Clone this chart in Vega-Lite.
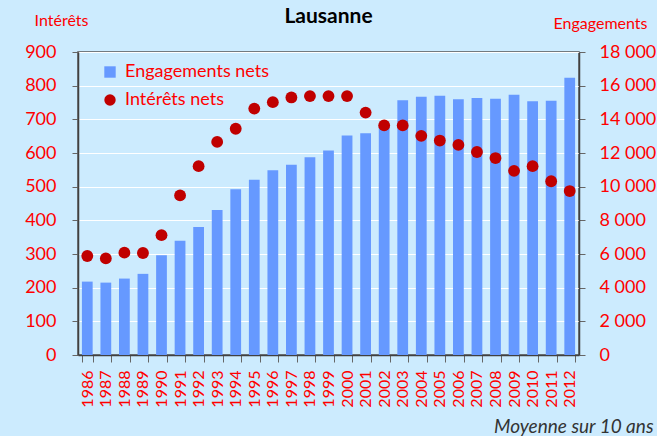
{
  "$schema": "https://vega.github.io/schema/vega-lite/v6.json",
  "autosize": {"type": "none"},
  "width": 501,
  "height": 303,
  "padding": {"left": 78, "top": 52, "right": 78, "bottom": 81},
  "background": "#CCEBFE",
  "config": {"font": "Lato", "view": {"stroke": "#555555", "strokeWidth": 1.5}},
  "title": {"text": "Lausanne", "fontSize": 21, "fontWeight": "bold", "color": "#000000", "anchor": "middle", "offset": -15},
  "data": {"values": [
    {"year": "1986", "interets": 294, "engagements": 4360},
    {"year": "1987", "interets": 287, "engagements": 4300},
    {"year": "1988", "interets": 304, "engagements": 4540},
    {"year": "1989", "interets": 303, "engagements": 4820},
    {"year": "1990", "interets": 356, "engagements": 5930},
    {"year": "1991", "interets": 474, "engagements": 6780},
    {"year": "1992", "interets": 561, "engagements": 7610},
    {"year": "1993", "interets": 633, "engagements": 8620},
    {"year": "1994", "interets": 672, "engagements": 9850},
    {"year": "1995", "interets": 732, "engagements": 10410},
    {"year": "1996", "interets": 751, "engagements": 10980},
    {"year": "1997", "interets": 765, "engagements": 11300},
    {"year": "1998", "interets": 769, "engagements": 11750},
    {"year": "1999", "interets": 769, "engagements": 12150},
    {"year": "2000", "interets": 769, "engagements": 13040},
    {"year": "2001", "interets": 720, "engagements": 13180},
    {"year": "2002", "interets": 682, "engagements": 13540},
    {"year": "2003", "interets": 682, "engagements": 15140},
    {"year": "2004", "interets": 651, "engagements": 15340},
    {"year": "2005", "interets": 637, "engagements": 15400},
    {"year": "2006", "interets": 624, "engagements": 15200},
    {"year": "2007", "interets": 603, "engagements": 15260},
    {"year": "2008", "interets": 585, "engagements": 15220},
    {"year": "2009", "interets": 547, "engagements": 15460},
    {"year": "2010", "interets": 561, "engagements": 15080},
    {"year": "2011", "interets": 516, "engagements": 15100},
    {"year": "2012", "interets": 487, "engagements": 16470}
  ]},
  "encoding": {
    "x": {
      "field": "year", "type": "ordinal",
      "scale": {"paddingInner": 0.42},
      "axis": {
        "title": "Moyenne sur 10 ans", "titleFontStyle": "italic", "titleFontWeight": "normal",
        "titleColor": "#333333", "titleFontSize": 19, "titleAlign": "right", "titleAnchor": "end",
        "titleX": 575, "titleY": 77, "titleBaseline": "alphabetic",
        "labelAngle": -90, "labelAlign": "right", "labelBaseline": "middle",
        "labelColor": "#FF0000", "labelFontSize": 16, "labelPadding": 8,
        "tickSize": 7, "tickBand": "extent", "tickColor": "#666666",
        "domainColor": "#404040", "domainWidth": 1.5, "grid": false
      }
    }
  },
  "layer": [
    {
      "mark": {"type": "bar", "color": "#6699FF"},
      "encoding": {
        "y": {
          "field": "engagements", "type": "quantitative",
          "scale": {"domain": [0, 18000], "nice": false},
          "axis": {
            "orient": "right",
            "values": [0, 2000, 4000, 6000, 8000, 10000, 12000, 14000, 16000, 18000],
            "labelExpr": "replace(format(datum.value, ','), ',', ' ')",
            "grid": false,
            "title": "Engagements", "titleAngle": 0, "titleAlign": "center", "titleBaseline": "alphabetic",
            "titleX": 21, "titleY": -24, "titleColor": "#FF0000", "titleFontSize": 16, "titleFontWeight": "normal",
            "labelColor": "#FF0000", "labelFontSize": 18, "labelPadding": 14,
            "tickSize": 6, "tickColor": "#666666", "domainColor": "#404040", "domainWidth": 1.5
          }
        },
        "color": {
          "datum": "Engagements nets",
          "scale": {"domain": ["Engagements nets", "Intérêts nets"], "range": ["#6699FF", "#C00000"]},
          "legend": {
            "orient": "none", "legendX": 23, "legendY": 11, "title": null,
            "labelColor": "#FF0000", "labelFontSize": 18, "labelOffset": 6,
            "rowPadding": 10, "padding": 0, "symbolSize": 130, "symbolOpacity": 1, "symbolStrokeWidth": 0,
            "encode": {"symbols": {"update": {"shape": {"signal": "datum.label === 'Engagements nets' ? 'square' : 'circle'"}}}}
          }
        }
      }
    },
    {
      "mark": {"type": "point", "filled": true, "size": 140, "opacity": 1},
      "encoding": {
        "y": {
          "field": "interets", "type": "quantitative",
          "scale": {"domain": [0, 900], "nice": false},
          "axis": {
            "orient": "left",
            "values": [0, 100, 200, 300, 400, 500, 600, 700, 800, 900],
            "grid": true, "gridColor": "#FFFFFF", "gridWidth": 1,
            "title": "Intérêts", "titleAngle": 0, "titleAlign": "center", "titleBaseline": "alphabetic",
            "titleX": -17, "titleY": -27, "titleColor": "#FF0000", "titleFontSize": 16, "titleFontWeight": "normal",
            "labelColor": "#FF0000", "labelFontSize": 18, "labelPadding": 16,
            "tickSize": 6, "tickColor": "#666666", "domainColor": "#404040", "domainWidth": 1.5
          }
        },
        "color": {"datum": "Intérêts nets"}
      }
    }
  ],
  "resolve": {"scale": {"y": "independent"}}
}
